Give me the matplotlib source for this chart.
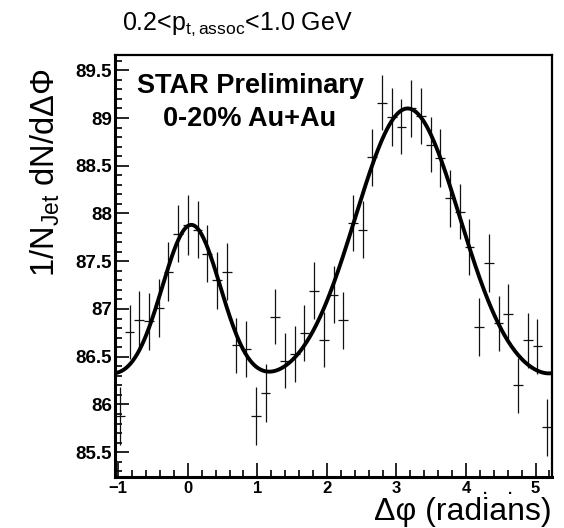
import numpy as np
import matplotlib
matplotlib.use('Agg')
import matplotlib.pyplot as plt
from matplotlib.ticker import MultipleLocator

plt.rcParams['font.family'] = ['Liberation Sans', 'DejaVu Sans']
plt.rcParams['mathtext.fontset'] = 'custom'
plt.rcParams['mathtext.rm'] = 'Liberation Sans'
plt.rcParams['mathtext.it'] = 'Liberation Sans:italic'

# 45 bins over [-pi/3, 5pi/3]
n_bins = 45
dphi_lo, dphi_hi = -np.pi / 3, 5 * np.pi / 3
bin_w = (dphi_hi - dphi_lo) / n_bins
dphi = dphi_lo + (np.arange(n_bins) + 0.5) * bin_w

yield_vals = [85.88, 86.76, 86.88, 86.87, 87.01, 87.39, 87.79, 87.88, 87.83, 87.58,
              87.30, 87.39, 86.62, 86.58, 85.88, 86.12, 86.92, 86.46, 86.53, 86.75,
              87.19, 86.68, 87.15, 86.88, 87.90, 87.83, 88.59, 89.16, 89.01, 88.91,
              89.10, 89.02, 88.72, 88.58, 88.16, 88.02, 87.65, 86.81, 87.48, 86.85,
              86.95, 86.20, 86.67, 86.61, 85.76]
yield_err = [0.30, 0.28, 0.31, 0.30, 0.30, 0.31, 0.30, 0.31, 0.30, 0.30,
             0.30, 0.30, 0.29, 0.29, 0.30, 0.30, 0.29, 0.29, 0.29, 0.29,
             0.30, 0.29, 0.30, 0.30, 0.29, 0.30, 0.30, 0.29, 0.30, 0.29,
             0.30, 0.29, 0.29, 0.30, 0.30, 0.29, 0.29, 0.30, 0.30, 0.29,
             0.31, 0.29, 0.29, 0.29, 0.30]

# fit: constant + near-side and away-side gaussians (periodic)
fit_base = 86.21
near_amp, near_sigma, near_mu = 1.67, 0.42, 0.05
away_amp, away_sigma, away_mu = 2.89, 0.75, 3.16


def gaus(x, a, mu, s):
    out = 0
    for k in (-1, 0, 1):
        out = out + a * np.exp(-(x - mu - 2 * np.pi * k) ** 2 / (2 * s ** 2))
    return out


xf = np.linspace(dphi_lo, dphi_hi, 400)
yf = fit_base + gaus(xf, near_amp, near_mu, near_sigma) + gaus(xf, away_amp, away_mu, away_sigma)

fig = plt.figure(figsize=(5.64, 5.28), dpi=100)
ax = fig.add_axes([115 / 564, 1 - 477 / 528, 437 / 564, 422 / 528])

ax.errorbar(dphi, yield_vals, yerr=yield_err, xerr=bin_w / 2, fmt='none',
            ecolor='#111111', elinewidth=0.9, capsize=0)
ax.plot(xf, yf, color='black', lw=2.8)

ax.set_xlim(dphi_lo, dphi_hi)
ax.set_ylim(85.24, 89.66)
ax.xaxis.set_major_locator(MultipleLocator(1))
ax.xaxis.set_minor_locator(MultipleLocator(0.2))
ax.yaxis.set_major_locator(MultipleLocator(0.5))
ax.yaxis.set_minor_locator(MultipleLocator(0.1))
ax.yaxis.set_major_formatter(plt.FuncFormatter(lambda v, p: f'{v:g}'))

ax.tick_params(which='both', direction='in', top=False, right=False, width=1.2)
ax.tick_params(which='major', length=10)
ax.tick_params(which='minor', length=5)
ax.tick_params(axis='y', which='major', pad=2, labelsize=13.5)
ax.tick_params(axis='x', which='major', pad=3, labelsize=12)
for lab in ax.get_xticklabels() + ax.get_yticklabels():
    lab.set_fontweight('bold')
for side in ['left', 'bottom']:
    ax.spines[side].set_linewidth(2.2)
for side in ['top', 'right']:
    ax.spines[side].set_linewidth(1.6)

ax.text(0.309, 0.910, 'STAR Preliminary', transform=ax.transAxes, ha='center',
        va='baseline', fontsize=19.5, fontweight='bold')
ax.text(0.309, 0.832, '0-20% Au+Au', transform=ax.transAxes, ha='center',
        va='baseline', fontsize=19.5, fontweight='bold')

fig.text(122 / 564, 1 - 30 / 528, r'0.2<p$_{\mathrm{t,assoc}}$<1.0 GeV',
         ha='left', va='baseline', fontsize=18)
fig.text(45 / 564, 1 - 173 / 528, r'1/N$_{\mathrm{Jet}}$ dN/dΔΦ', rotation=90,
         ha='center', va='center', fontsize=23.5)
fig.text(552 / 564, 1 - 520 / 528, 'Δφ (radians)', ha='right', va='baseline',
         fontsize=23)
# two stray dots under the axis between the 4 and 5 labels
for xd in (485, 510):
    fig.text(xd / 564, 1 - 494 / 528, '.', ha='center', va='baseline',
             fontsize=11, fontweight='bold')

fig.savefig('out.png', dpi=100)
